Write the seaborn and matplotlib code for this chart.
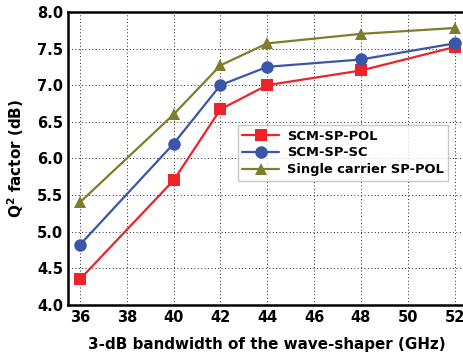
import numpy as np
import pandas as pd
import matplotlib
matplotlib.use("Agg")
import matplotlib.pyplot as plt
import seaborn as sns
from matplotlib.ticker import MultipleLocator

bandwidth = [36, 40, 42, 44, 48, 52]
scm_sp_pol = [4.35, 5.70, 6.67, 7.00, 7.20, 7.52]
scm_sp_sc = [4.82, 6.20, 7.00, 7.25, 7.35, 7.57]
single_sp_pol = [5.40, 6.60, 7.27, 7.57, 7.70, 7.78]
series_names = ["SCM-SP-POL", "SCM-SP-SC", "Single carrier SP-POL"]

df = pd.DataFrame({
    "bw": bandwidth * 3,
    "q2": scm_sp_pol + scm_sp_sc + single_sp_pol,
    "series": np.repeat(series_names, len(bandwidth)),
})

sns.set_style("white")
plt.rcParams["font.family"] = ["DejaVu Sans"]
plt.rcParams["font.weight"] = "bold"
plt.rcParams["text.color"] = "black"
plt.rcParams["xtick.color"] = "black"
plt.rcParams["ytick.color"] = "black"
plt.rcParams["axes.labelcolor"] = "black"

fig = plt.figure(figsize=(4.64, 3.6), dpi=100)
ax = fig.add_axes([0.147, 0.153, 0.858, 0.814])

palette = {"SCM-SP-POL": "#EE2229", "SCM-SP-SC": "#3A56A8", "Single carrier SP-POL": "#7D7D2A"}
markers = {"SCM-SP-POL": "s", "SCM-SP-SC": "o", "Single carrier SP-POL": "^"}

sns.lineplot(data=df, x="bw", y="q2", hue="series", style="series", palette=palette,
             markers=markers, dashes=False, markersize=9, linewidth=1.6,
             markeredgewidth=0, ax=ax)

ax.set_xlim(35.5, 52.5)
ax.set_ylim(4.0, 8.0)
ax.xaxis.set_major_locator(MultipleLocator(2))
ax.xaxis.set_minor_locator(MultipleLocator(1))
ax.yaxis.set_major_locator(MultipleLocator(0.5))
ax.yaxis.set_minor_locator(MultipleLocator(0.25))
ax.yaxis.set_major_formatter(matplotlib.ticker.FormatStrFormatter("%.1f"))
ax.tick_params(which="both", direction="in", labelsize=10.5, width=1.2)
ax.tick_params(which="major", length=5)
ax.tick_params(which="minor", length=3)
for lbl in ax.get_xticklabels() + ax.get_yticklabels():
    lbl.set_fontweight("bold")
ax.grid(True, which="major", color="#222222", linestyle=(0, (1, 2.5)), linewidth=0.7)
for s in ax.spines.values():
    s.set_linewidth(1.8)
    s.set_color("black")

ax.set_xlabel("3-dB bandwidth of the wave-shaper (GHz)", fontsize=10.9, fontweight="bold", labelpad=9)
ax.set_ylabel("Q$^\\mathbf{2}$ factor (dB)", fontsize=10.9, fontweight="bold", labelpad=8)

leg = ax.legend(loc="upper left", bbox_to_anchor=(0.426, 0.614), fontsize=9.4,
                frameon=True, fancybox=False, handlelength=2.8, borderpad=0.35,
                labelspacing=0.3, handletextpad=0.6, borderaxespad=0)
leg.get_frame().set_edgecolor("#BBBBBB")
leg.get_frame().set_linewidth(1.0)
for t in leg.get_texts():
    t.set_fontweight("bold")

fig.savefig("out.png", dpi=100)
